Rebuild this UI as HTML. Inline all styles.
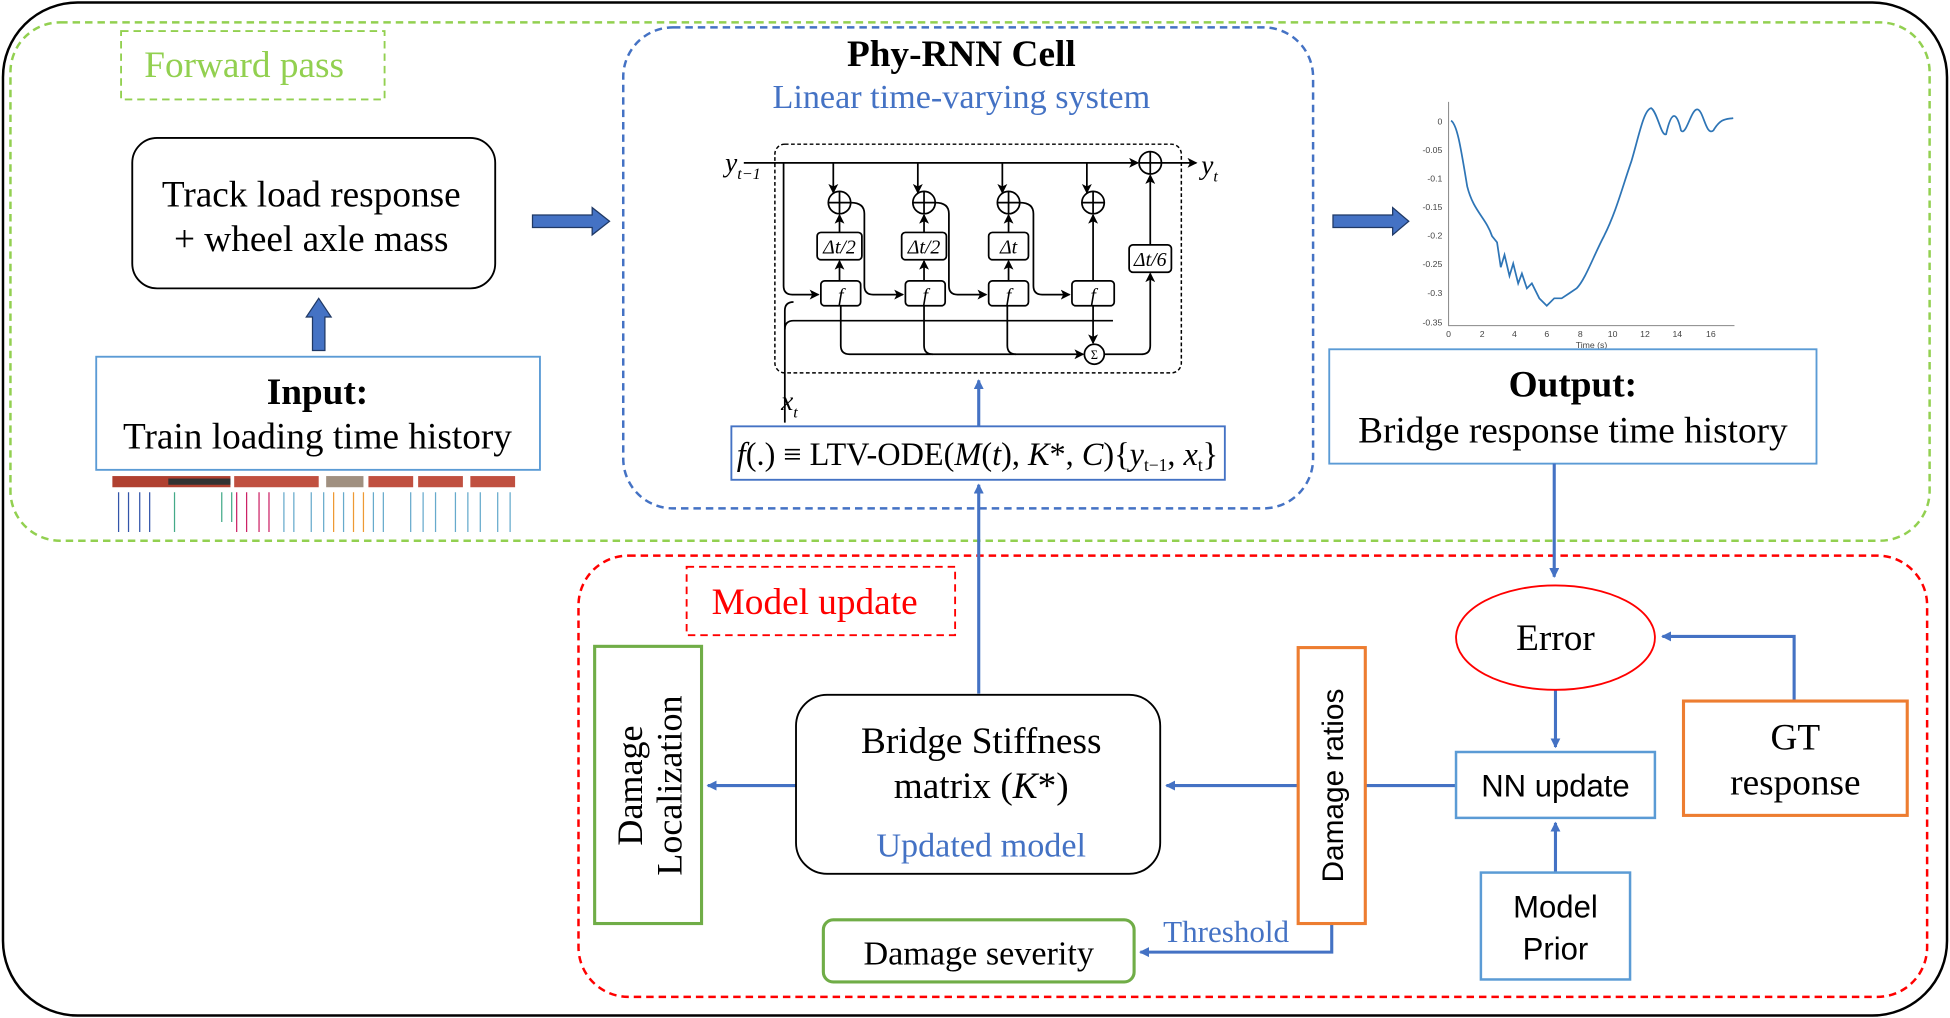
<!DOCTYPE html>
<html><head><style>html,body{margin:0;padding:0;background:#fff}svg{display:block}</style></head><body>
<svg width="1950" height="1018" viewBox="0 0 1568 819" xmlns="http://www.w3.org/2000/svg" font-family="Liberation Serif, serif">
<defs>
<marker id="ab" markerWidth="8" markerHeight="8" refX="7" refY="4" orient="auto" markerUnits="userSpaceOnUse"><path d="M0,0 L8,4 L0,8 z" fill="#4472c4"/></marker>
<marker id="ak" markerWidth="8" markerHeight="8" refX="7" refY="4" orient="auto" markerUnits="userSpaceOnUse"><path d="M0,0 L8,4 L0,8 L2,4 z" fill="#000"/></marker>
</defs>
<rect x="2" y="2" width="1564" height="815" rx="60" fill="#fff" stroke="#000" stroke-width="2"/>
<rect x="8" y="18" width="1544" height="417" rx="40" fill="none" stroke="#92d050" stroke-width="2" stroke-dasharray="6,4"/>
<rect x="97" y="25" width="212" height="55" fill="none" stroke="#92d050" stroke-width="1.5" stroke-dasharray="6,4"/>
<text x="196" y="62" font-size="30" fill="#92d050" text-anchor="middle">Forward pass</text>
<rect x="106" y="111" width="292" height="121" rx="20" fill="#fff" stroke="#000" stroke-width="1.5"/>
<text x="250" y="166" font-size="30" text-anchor="middle">Track load response</text>
<text x="250" y="202" font-size="30" text-anchor="middle">+ wheel axle mass</text>
<path d="M251,282 V255 H246 L256,240 L266,255 H261 V282 z" fill="#4472c4" stroke="#1f3864"/>
<rect x="77" y="287" width="357" height="91" fill="#fff" stroke="#5b9bd5" stroke-width="1.5"/>
<text x="255" y="325" font-size="30" font-weight="bold" text-anchor="middle">Input:</text>
<text x="255" y="361" font-size="30" text-anchor="middle">Train loading time history</text>
<g stroke-width="1">
<rect x="90" y="383" width="95" height="9" fill="#b04030"/><rect x="135" y="385" width="50" height="5" fill="#333"/>
<rect x="188" y="383" width="68" height="9" fill="#c05040"/><rect x="262" y="383" width="30" height="9" fill="#a09080"/>
<rect x="296" y="383" width="36" height="9" fill="#c05040"/><rect x="336" y="383" width="36" height="9" fill="#c05040"/><rect x="378" y="383" width="36" height="9" fill="#c05040"/>
<g stroke="#3355aa"><path d="M95,396V428M103,396V428M112,396V428M120,396V428"/></g>
<g stroke="#44aa88"><path d="M140,396V428M178,396V420M186,396V420"/></g>
<g stroke="#cc2266"><path d="M190,396V428M198,396V428M208,396V428M216,396V428"/></g>
<g stroke="#66aacc"><path d="M228,396V428M236,396V428M250,396V428M260,396V428M276,396V428M300,396V428M308,396V428M330,396V428M340,396V428M350,396V428M366,396V428M376,396V428M386,396V428M400,396V428M410,396V428"/></g>
<g stroke="#ee9933"><path d="M268,396V428M284,396V428M292,396V428"/></g>
</g>
<path d="M428,173 H476 V167 L490,178 L476,189 V183 H428 z" fill="#4472c4" stroke="#1f3864"/>
<rect x="501" y="22" width="555" height="387" rx="40" fill="none" stroke="#4472c4" stroke-width="2" stroke-dasharray="6,4"/>
<text x="773" y="53" font-size="30" font-weight="bold" text-anchor="middle">Phy-RNN Cell</text>
<text x="773" y="87" font-size="27.5" fill="#4472c4" text-anchor="middle">Linear time-varying system</text>
<rect x="623" y="116" width="327" height="184" rx="8" fill="none" stroke="#000" stroke-width="1.2" stroke-dasharray="3,2"/>
<g stroke="#000" stroke-width="1.4" fill="none">
<path d="M598,131 H915" marker-end="url(#ak)"/><path d="M934,131 H962" marker-end="url(#ak)"/>
<circle cx="925" cy="131" r="9"/><path d="M916,131H934M925,122V140"/>
<path d="M630,131 V230 Q630,237 637,237 H658" marker-end="url(#ak)"/>
<path d="M631,340 V250 Q631,243 638,243"/>
<path d="M631,265 Q631,258 638,258 H895"/>
<path d="M670,131 V155" marker-end="url(#ak)"/><circle cx="675" cy="163" r="9"/><path d="M666,163H684M675,154V172"/>
<path d="M675,187 V173" marker-end="url(#ak)"/><rect x="657" y="187" width="36" height="22" rx="3"/><path d="M675,226 V210" marker-end="url(#ak)"/>
<rect x="660" y="226" width="32" height="20" rx="3"/><path d="M684,163 Q695,163 695,172 V230 Q695,237 702,237 H726" marker-end="url(#ak)"/>
<path d="M738,131 V155" marker-end="url(#ak)"/><circle cx="743" cy="163" r="9"/><path d="M734,163H752M743,154V172"/>
<path d="M743,187 V173" marker-end="url(#ak)"/><rect x="725" y="187" width="36" height="22" rx="3"/><path d="M743,226 V210" marker-end="url(#ak)"/>
<rect x="728" y="226" width="32" height="20" rx="3"/><path d="M752,163 Q763,163 763,172 V230 Q763,237 770,237 H793" marker-end="url(#ak)"/>
<path d="M806,131 V155" marker-end="url(#ak)"/><circle cx="811" cy="163" r="9"/><path d="M802,163H820M811,154V172"/>
<path d="M811,187 V173" marker-end="url(#ak)"/><rect x="795" y="187" width="32" height="22" rx="3"/><path d="M811,226 V210" marker-end="url(#ak)"/>
<rect x="795" y="226" width="32" height="20" rx="3"/><path d="M820,163 Q831,163 831,172 V230 Q831,237 838,237 H860" marker-end="url(#ak)"/>
<path d="M874,131 V155" marker-end="url(#ak)"/><circle cx="879" cy="163" r="9"/><path d="M870,163H888M879,154V172"/>
<path d="M879,226 V173" marker-end="url(#ak)"/><rect x="862" y="226" width="34" height="20" rx="3"/>
<path d="M879,246 V276" marker-end="url(#ak)"/>
<circle cx="880" cy="285" r="8"/>
<path d="M676,246 V278 Q676,285 683,285 H871" marker-end="url(#ak)"/>
<path d="M743,246 V278 Q743,285 750,285"/><path d="M810,246 V278 Q810,285 817,285"/>
<path d="M888,285 H918 Q925,285 925,278 V220" marker-end="url(#ak)"/>
<rect x="908" y="197" width="34" height="22" rx="3"/><path d="M925,197 V141" marker-end="url(#ak)"/>
</g>
<g font-size="16" font-style="italic" text-anchor="middle">
<text x="675" y="204">Δt/2</text><text x="743" y="204">Δt/2</text><text x="811" y="204">Δt</text><text x="925" y="214">Δt/6</text>
<text x="676" y="243">f</text><text x="744" y="243">f</text><text x="811" y="243">f</text><text x="879" y="243">f</text>
<text x="880" y="289" font-size="10" font-style="normal">Σ</text>
</g>
<text x="583" y="138" font-size="22" font-style="italic">y<tspan font-size="13" dy="6">t−1</tspan></text>
<text x="966" y="140" font-size="22" font-style="italic">y<tspan font-size="13" dy="6">t</tspan></text>
<text x="628" y="330" font-size="22" font-style="italic">x<tspan font-size="13" dy="6">t</tspan></text>
<path d="M787,343 V306" stroke="#4472c4" stroke-width="2.5" marker-end="url(#ab)"/>
<rect x="588" y="343" width="397" height="43" fill="#fff" stroke="#4472c4" stroke-width="1.5"/>
<text x="786" y="374" font-size="26" text-anchor="middle"><tspan font-style="italic">f</tspan>(.) ≡ LTV-ODE(<tspan font-style="italic">M</tspan>(<tspan font-style="italic">t</tspan>), <tspan font-style="italic">K</tspan>*, <tspan font-style="italic">C</tspan>){<tspan font-style="italic">y</tspan><tspan font-size="14" dy="5">t−1</tspan><tspan dy="-5">, </tspan><tspan font-style="italic">x</tspan><tspan font-size="14" dy="5">t</tspan><tspan dy="-5">}</tspan></text>
<path d="M1072,178 H1120 V172 L1133,183 L1120,194 V188 H1072 z" transform="translate(0,-5)" fill="#4472c4" stroke="#1f3864"/>
<g font-family="Liberation Sans, sans-serif" font-size="7" fill="#444">
<path d="M1165,82 V262 H1395" stroke="#888" fill="none" stroke-width="0.8"/>
<text x="1160" y="100" text-anchor="end">0</text><text x="1160" y="123" text-anchor="end">-0.05</text><text x="1160" y="146" text-anchor="end">-0.1</text><text x="1160" y="169" text-anchor="end">-0.15</text><text x="1160" y="192" text-anchor="end">-0.2</text><text x="1160" y="215" text-anchor="end">-0.25</text><text x="1160" y="238" text-anchor="end">-0.3</text><text x="1160" y="262" text-anchor="end">-0.35</text>
<text x="1165" y="271" text-anchor="middle">0</text><text x="1192" y="271" text-anchor="middle">2</text><text x="1218" y="271" text-anchor="middle">4</text><text x="1244" y="271" text-anchor="middle">6</text><text x="1271" y="271" text-anchor="middle">8</text><text x="1297" y="271" text-anchor="middle">10</text><text x="1323" y="271" text-anchor="middle">12</text><text x="1349" y="271" text-anchor="middle">14</text><text x="1376" y="271" text-anchor="middle">16</text>
<text x="1280" y="280" text-anchor="middle">Time (s)</text>
</g>
<path d="M1167,97 C1172,100 1175,120 1180,150 C1185,170 1195,175 1200,190 L1204,195 L1207,215 L1210,205 L1214,222 L1217,212 L1221,228 L1224,220 L1228,232 L1232,228 L1238,240 L1244,246 L1250,240 L1256,240 L1262,236 L1268,232 C1275,225 1282,205 1290,190 C1300,170 1305,150 1312,130 C1318,110 1322,88 1328,87 C1333,90 1336,110 1340,108 C1344,90 1348,88 1352,105 C1356,110 1360,88 1365,88 C1370,88 1372,110 1378,105 C1384,95 1388,96 1394,95" fill="none" stroke="#2e75b6" stroke-width="1.4"/>
<rect x="1069" y="281" width="392" height="92" fill="#fff" stroke="#5b9bd5" stroke-width="1.5"/>
<text x="1265" y="319" font-size="30" font-weight="bold" text-anchor="middle">Output:</text>
<text x="1265" y="356" font-size="30" text-anchor="middle">Bridge response time history</text>
<rect x="465" y="447" width="1085" height="355" rx="40" fill="none" stroke="#ff0000" stroke-width="2" stroke-dasharray="6,4"/>
<rect x="552" y="456" width="216" height="55" fill="none" stroke="#ff0000" stroke-width="1.5" stroke-dasharray="6,4"/>
<text x="655" y="494" font-size="30" fill="#ff0000" text-anchor="middle">Model update</text>
<g stroke="#4472c4" stroke-width="2.5" fill="none">
<path d="M1250,373 V464" marker-end="url(#ab)"/>
<path d="M1443,564 V512 H1337" marker-end="url(#ab)"/>
<path d="M1251,555 V601" marker-end="url(#ab)"/>
<path d="M1251,702 V662" marker-end="url(#ab)"/>
<path d="M1171,632 H1098"/>
<path d="M1044,632 H938" marker-end="url(#ab)"/>
<path d="M640,632 H569" marker-end="url(#ab)"/>
<path d="M787,558 V390" marker-end="url(#ab)"/>
<path d="M1071,743 V766 H917" marker-end="url(#ab)"/>
</g>
<ellipse cx="1251" cy="513" rx="80" ry="42" fill="#fff" stroke="#ff0000" stroke-width="1.5"/>
<text x="1251" y="523" font-size="30" text-anchor="middle">Error</text>
<rect x="1354" y="564" width="180" height="92" fill="#fff" stroke="#ed7d31" stroke-width="2.5"/>
<text x="1444" y="603" font-size="30" text-anchor="middle">GT</text><text x="1444" y="639" font-size="30" text-anchor="middle">response</text>
<g font-family="Liberation Sans, sans-serif" font-size="25" text-anchor="middle">
<rect x="1171" y="605" width="160" height="53" fill="#fff" stroke="#5b9bd5" stroke-width="2"/>
<text x="1251" y="641">NN update</text>
<rect x="1191" y="702" width="120" height="86" fill="#fff" stroke="#5b9bd5" stroke-width="2"/>
<text x="1251" y="738">Model</text><text x="1251" y="772">Prior</text>
<rect x="1044" y="521" width="54" height="222" fill="#fff" stroke="#ed7d31" stroke-width="2.5"/>
<text transform="translate(1080,632) rotate(-90)" font-size="24">Damage ratios</text>
</g>
<rect x="640" y="559" width="293" height="144" rx="25" fill="#fff" stroke="#000" stroke-width="1.5"/>
<text x="789" y="606" font-size="30" text-anchor="middle">Bridge Stiffness</text>
<text x="789" y="642" font-size="30" text-anchor="middle">matrix (<tspan font-style="italic">K</tspan>*)</text>
<text x="789" y="689" font-size="27.5" fill="#4472c4" text-anchor="middle">Updated model</text>
<rect x="478" y="520" width="86" height="223" fill="#fff" stroke="#70ad47" stroke-width="2.5"/>
<text transform="translate(516,632) rotate(-90)" font-size="29" text-anchor="middle">Damage</text>
<text transform="translate(548,632) rotate(-90)" font-size="29" text-anchor="middle">Localization</text>
<rect x="662" y="740" width="250" height="50" rx="8" fill="#fff" stroke="#70ad47" stroke-width="2.5"/>
<text x="787" y="776" font-size="27.5" text-anchor="middle">Damage severity</text>
<text x="986" y="758" font-size="25" fill="#4472c4" text-anchor="middle">Threshold</text>
</svg>
</body></html>
